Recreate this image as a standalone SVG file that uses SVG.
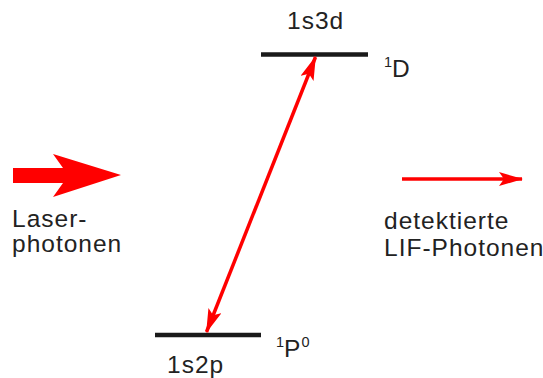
<svg xmlns="http://www.w3.org/2000/svg" width="543" height="378" viewBox="0 0 543 378">
<defs>
<style>
text{font-family:"Liberation Sans",Arial,sans-serif;fill:#222;font-size:24.5px;letter-spacing:1px}
.sup{font-size:14.5px;letter-spacing:0}
.lvl{stroke:#1a1a1a;stroke-width:4.5}
.red{stroke:#ff0000;stroke-width:3.5;fill:none}
</style>
<marker id="ah" markerUnits="userSpaceOnUse" viewBox="0 0 24 14" refX="23" refY="7" markerWidth="24" markerHeight="14" orient="auto-start-reverse">
<path d="M0,0 L24,7 L0,14 L5,7 z" fill="#ff0000"/>
</marker>
</defs>
<rect width="543" height="378" fill="#fff"/>
<g id="level-1s3d">
<line class="lvl" x1="261" y1="54.5" x2="368" y2="54.5"/>
<text x="287" y="29">1s3d</text>
<text x="384" y="76.5"><tspan class="sup" dy="-9.5">1</tspan><tspan dy="9.5">D</tspan></text>
</g>
<g id="level-1s2p">
<line class="lvl" x1="155" y1="335" x2="261" y2="335"/>
<text x="167" y="373">1s2p</text>
<text x="276" y="356.5"><tspan class="sup" dy="-9.5">1</tspan><tspan dy="9.5">P</tspan><tspan class="sup" dy="-9.5">0</tspan></text>
</g>
<g id="laser">
<polygon points="13,168 63,168 53,154 121,175 53,197 63,183 13,183" fill="#ff0000"/>
<text x="12" y="227">Laser-<tspan x="12" dy="25">photonen</tspan></text>
</g>
<g id="lif">
<text x="384" y="229">detektierte<tspan x="384" dy="27">LIF-Photonen</tspan></text>
</g>
<g id="connectors">
<line class="red" x1="206.5" y1="332" x2="315.5" y2="57" marker-start="url(#ah)" marker-end="url(#ah)"/>
<line class="red" x1="402" y1="179" x2="522" y2="179" marker-end="url(#ah)"/>
</g>
</svg>
